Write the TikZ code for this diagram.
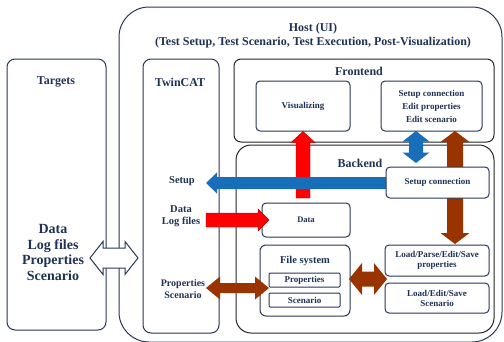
\documentclass[tikz,border=0pt]{standalone}
\usepackage{fontspec}
\setmainfont{Liberation Serif}
\usetikzlibrary{calc}
\definecolor{navy}{RGB}{31,50,85}
\definecolor{edge}{RGB}{40,56,88}
\definecolor{arrblue}{RGB}{24,110,184}
\definecolor{arrred}{RGB}{255,0,0}
\definecolor{arrbrown}{RGB}{153,51,0}
\pgfdeclarelayer{back}
\pgfdeclarelayer{mid}
\pgfsetlayers{back,mid,main}
% single-headed fat arrows (tail #2, tip #3; #4 half shaft, #5 half head, #6 head length)
\newcommand\fatH[6]{%
  \path[#1] let \p1=(#2), \p2=(#3), \n1={sign(\x2-\x1)} in
    (\x1,{\y1-#4}) -- ({\x2-(\n1)*#6},{\y1-#4}) -- ({\x2-(\n1)*#6},{\y1-#5}) -- (\x2,\y1)
    -- ({\x2-(\n1)*#6},{\y1+#5}) -- ({\x2-(\n1)*#6},{\y1+#4}) -- (\x1,{\y1+#4}) -- cycle;}
\newcommand\fatV[6]{%
  \path[#1] let \p1=(#2), \p2=(#3), \n1={sign(\y2-\y1)} in
    ({\x1-#4},\y1) -- ({\x1-#4},{\y2-(\n1)*#6}) -- ({\x1-#5},{\y2-(\n1)*#6}) -- (\x1,\y2)
    -- ({\x1+#5},{\y2-(\n1)*#6}) -- ({\x1+#4},{\y2-(\n1)*#6}) -- ({\x1+#4},\y1) -- cycle;}
% double-headed fat arrows
\newcommand\fatHH[6]{%
  \path[#1] let \p1=(#2), \p2=(#3), \n1={sign(\x2-\x1)} in
    (\x1,\y1) -- ({\x1+(\n1)*#6},{\y1-#5}) -- ({\x1+(\n1)*#6},{\y1-#4}) -- ({\x2-(\n1)*#6},{\y1-#4})
    -- ({\x2-(\n1)*#6},{\y1-#5}) -- (\x2,\y1) -- ({\x2-(\n1)*#6},{\y1+#5}) -- ({\x2-(\n1)*#6},{\y1+#4})
    -- ({\x1+(\n1)*#6},{\y1+#4}) -- ({\x1+(\n1)*#6},{\y1+#5}) -- cycle;}
\newcommand\fatVV[6]{%
  \path[#1] let \p1=(#2), \p2=(#3), \n1={sign(\y2-\y1)} in
    (\x1,\y1) -- ({\x1-#5},{\y1+(\n1)*#6}) -- ({\x1-#4},{\y1+(\n1)*#6}) -- ({\x1-#4},{\y2-(\n1)*#6})
    -- ({\x1-#5},{\y2-(\n1)*#6}) -- (\x1,\y2) -- ({\x1+#5},{\y2-(\n1)*#6}) -- ({\x1+#4},{\y2-(\n1)*#6})
    -- ({\x1+#4},{\y1+(\n1)*#6}) -- ({\x1+#5},{\y1+(\n1)*#6}) -- cycle;}
\begin{document}
\begin{tikzpicture}[x=1pt,y=-1pt,
  box/.style={draw=edge, line width=1pt, fill=white, rounded corners=4pt, inner sep=0pt,
    text=navy, align=center, font=\bfseries\fontsize{9}{10.5}\selectfont},
  panel/.style={box, rounded corners=8pt},
  blackpanel/.style={box, draw=black!85},
  lbl/.style={text=navy, align=center, inner sep=0pt, font=\bfseries\fontsize{12}{14}\selectfont},
  sidelbl/.style={lbl, font=\bfseries\fontsize{10.5}{12}\selectfont},
  redfill/.style={fill=arrred, draw=arrred!70!black, line width=0.4pt},
  bluefill/.style={fill=arrblue},
  brownfill/.style={fill=arrbrown},
  whitefill/.style={fill=white, draw=edge, line width=1pt, line join=miter}]
\useasboundingbox (0,0) rectangle (504,341);

\begin{pgfonlayer}{back}
  \node[panel, rounded corners=30pt, minimum width=383pt, minimum height=335pt] (host) at (310.5,174.5) {};
  \node[panel, minimum width=99pt, minimum height=271pt] (targets) at (56.5,194.5) {};
  \node[panel, minimum width=76pt, minimum height=274pt] (twincat) at (181,196) {};
  \node[blackpanel, rounded corners=7pt, minimum width=260pt, minimum height=83pt] (frontend) at (364,100.5) {};
  \node[blackpanel, rounded corners=15pt, minimum width=258pt, minimum height=188pt] (backend) at (365,239) {};
\end{pgfonlayer}

\node[lbl] (hostlbl) at (313,36) {Host (UI)\\(Test Setup, Test Scenario, Test Execution, Post-Visualization)};
\node[lbl] (targetslbl) at (56,82) {Targets};
\node[lbl, font=\bfseries\fontsize{14}{15.5}\selectfont] (targetsdata) at (53,252.5) {Data\\Log files\\Properties\\Scenario};
\node[lbl] (twincatlbl) at (180,82) {TwinCAT};
\node[lbl] (frontendlbl) at (359,71) {Frontend};
\node[lbl] (backendlbl) at (360,163) {Backend};

\node[sidelbl] (setuplbl) at (182,181) {Setup};
\node[sidelbl] (datalbl) at (181,216) {Data\\Log files};
\node[sidelbl, font=\bfseries\fontsize{10}{12}\selectfont] (proplbl) at (183,289) {Properties\\Scenario};

\node[box, minimum width=94pt, minimum height=50pt] (visual) at (303,106) {Visualizing};
\node[box, minimum width=101pt, minimum height=50pt, font=\bfseries\fontsize{9}{13}\selectfont] (fsetup) at (431.5,106) {Setup connection\\Edit properties\\Edit scenario};
\node[box, minimum width=103pt, minimum height=31pt] (setupconn) at (437.5,182.5) {Setup connection};
\node[box, minimum width=88pt, minimum height=34pt, font=\bfseries\fontsize{8.5}{10}\selectfont] (data) at (306,220) {Data};
\node[box, rounded corners=6pt, minimum width=90pt, minimum height=71pt] (filesys) at (305,280.5) {};
\node[lbl, font=\bfseries\fontsize{10.5}{12}\selectfont] (fslbl) at (305,261) {File system};
\node[box, rounded corners=1pt, minimum width=71pt, minimum height=14pt] (fsprop) at (304.5,280) {Properties};
\node[box, rounded corners=1pt, minimum width=71pt, minimum height=14pt] (fsscen) at (304.5,300) {Scenario};
\node[box, minimum width=104pt, minimum height=31pt, font=\bfseries\fontsize{9}{10}\selectfont] (loadprops) at (437,260.5) {Load/Parse/Edit/Save\\properties};
\node[box, minimum width=104pt, minimum height=30pt, font=\bfseries\fontsize{9}{10}\selectfont] (loadscen) at (437,298) {Load/Edit/Save\\Scenario};

% free ends of the connectors
\coordinate (redVtail) at (303,198);
\coordinate (setupTip) at (206,183);
\coordinate (setupTail) at (386,183);
\coordinate (bdTop) at (416,131);
\coordinate (bdBot) at (416,163);
\coordinate (brTop) at (455,131);
\coordinate (brBot) at (455,244);
\coordinate (redHtail) at (206,220);
\coordinate (redHtip) at (269,220);
\coordinate (pbL) at (206,288);
\coordinate (pbR) at (269,288);
\coordinate (fbL) at (349,279);
\coordinate (fbR) at (387,279);
\coordinate (wL) at (90,258);
\coordinate (wR) at (138,258);

\begin{pgfonlayer}{mid}
  \fatV{redfill}{redVtail}{visual.south}{7pt}{12pt}{11pt}
  \fatH{bluefill}{setupTail}{setupTip}{6pt}{10.5pt}{11pt}
  \fatVV{bluefill}{bdTop}{bdBot}{7pt}{13.5pt}{10.5pt}
  \fatVV{brownfill}{brTop}{brBot}{8pt}{14.5pt}{11pt}
\end{pgfonlayer}

\fatH{redfill}{redHtail}{redHtip}{7pt}{11pt}{11pt}
\fatHH{brownfill}{pbL}{pbR}{5pt}{11.5pt}{14pt}
\fatHH{brownfill}{fbL}{fbR}{7.5pt}{16pt}{13pt}
\fatHH{whitefill}{wL}{wR}{10pt}{16.5pt}{13pt}
\end{tikzpicture}
\end{document}
